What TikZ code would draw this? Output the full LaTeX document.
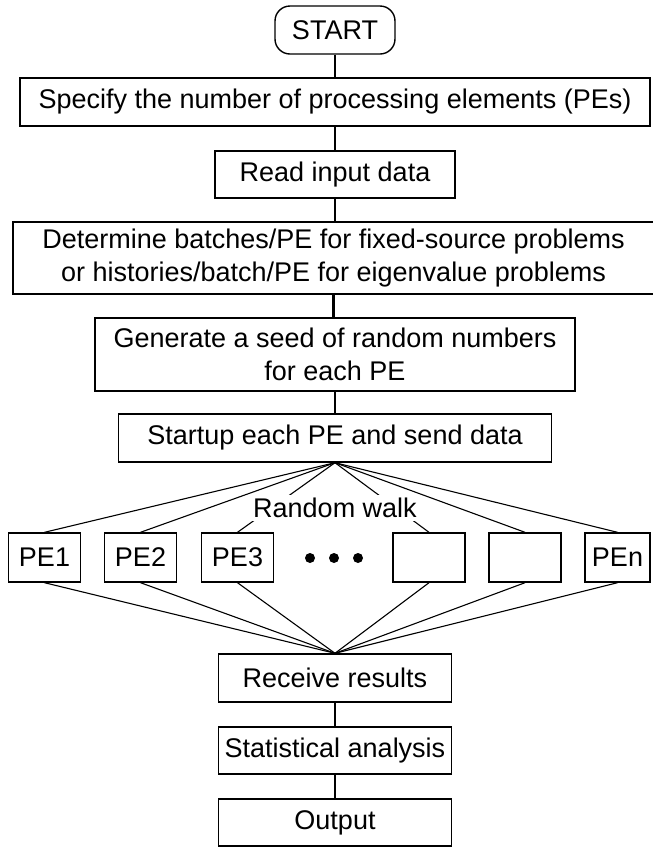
\documentclass[tikz,border=0pt]{standalone}
\usepackage{fontspec}
\setmainfont{Liberation Sans}
\begin{document}
\begin{tikzpicture}[x=1pt,y=-1pt,
    box/.style={draw, line width=1.4pt, inner sep=0pt, align=center,
                font=\fontsize{27}{33}\selectfont},
    pebox/.style={box, minimum width=72pt, minimum height=49pt},
    link/.style={line width=2.4pt},
    fan/.style={line width=1.1pt}]
    \useasboundingbox (0,0) rectangle (653,847);
    % main column
    \node[box, rounded corners=15pt, minimum width=120pt, minimum height=48pt] (start) at (335,30) {START};
    \node[box, minimum width=630pt, minimum height=48pt] (spec) at (335,102) {Specify the number of processing elements (PEs)};
    \node[box, minimum width=240pt, minimum height=47pt] (read) at (335,174.5) {Read input data};
    \node[box, minimum width=641pt, minimum height=72pt] (batch) at (333.5,258) {Determine batches/PE for fixed-source problems\\or histories/batch/PE for eigenvalue problems};
    \node[box, minimum width=480pt, minimum height=73pt] (seed) at (335,354.5) {Generate a seed of random numbers\\for each PE};
    \node[box, minimum width=433pt, minimum height=48pt] (startup) at (335,438) {Startup each PE and send data};
    % processing elements
    \node[pebox] (pe1) at (44.5,557.5) {PE1};
    \node[pebox] (pe2) at (140.5,557.5) {PE2};
    \node[pebox] (pe3) at (237.5,557.5) {PE3};
    \node[pebox] (pe4) at (429,557.5) {};
    \node[pebox] (pe5) at (525,557.5) {};
    \node[pebox, minimum width=65pt] (pen) at (617.5,557.5) {PEn};
    \foreach \x/\n in {310/dota,334/dotb,358/dotc}
        \node[circle, fill, inner sep=0pt, minimum size=10pt] (\n) at (\x,558) {};
    % collecting results
    \node[box, minimum width=233pt, minimum height=48pt] (recv) at (335,678) {Receive results};
    \node[box, minimum width=233pt, minimum height=47pt] (stats) at (335,750.5) {Statistical analysis};
    \node[box, minimum width=233pt, minimum height=47pt] (output) at (335,822.5) {Output};
    % connectors
    \foreach \a/\b in {start/spec,spec/read,read/batch,batch/seed,seed/startup,recv/stats,stats/output}
        \draw[link] (\a.south) -- (\a.south |- \b.north);
    \foreach \p in {pe1,pe2,pe3,pe4,pe5,pen}{
        \draw[fan] (startup.south) -- (\p.north);
        \draw[fan] (\p.south) -- (recv.north);
    }
    \node[fill=white, inner sep=3pt, font=\fontsize{27}{33}\selectfont] (walk) at (335,508) {Random walk};
\end{tikzpicture}
\end{document}
